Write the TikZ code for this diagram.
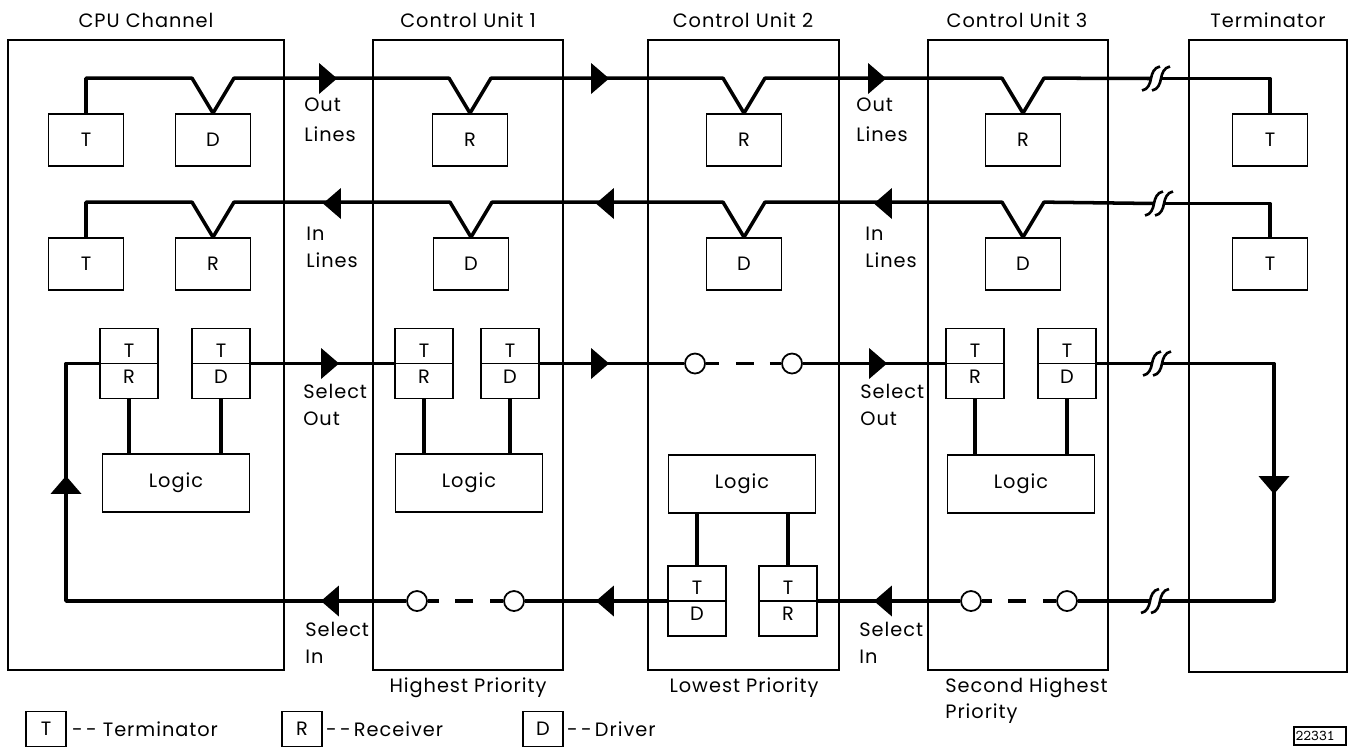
\documentclass[tikz,border=0pt]{standalone}
\usepackage{fontspec}
\setmainfont{Poppins}[LetterSpace=5]
\usepackage{tikz}
\usetikzlibrary{shapes.geometric}
\usetikzlibrary{positioning}
\newcommand\brk[1]{%
  \draw[line width=1.5pt] ([shift={(-14,12)}]#1) to[out=10,in=-100] ([shift={(-5,0)}]#1) to[out=80,in=190] ([shift={(4,-12)}]#1);%
  \draw[line width=1.5pt] ([shift={(-4,12)}]#1) to[out=10,in=-100] ([shift={(5,0)}]#1) to[out=80,in=190] ([shift={(14,-12)}]#1);}

\begin{document}
\begin{tikzpicture}[x=.2mm,y=-.2mm,font=\fontsize{11}{15}\selectfont]%
        \useasboundingbox (0,0) rectangle (1351,751);%%
        \tikzstyle{sig}=[line width=2pt,line join=round]
        \tikzstyle{gapline}=[sig,dash pattern=on 2.6mm off 3.4mm on 3.6mm off 3.2mm on 5mm]
        \tikzstyle{frame}=[line width=.9pt]
        \tikzstyle{arr}=[isosceles triangle,isosceles triangle stretches,fill=black,inner sep=0pt,minimum width=6.2mm,minimum height=3.6mm,anchor=apex]
        \tikzstyle{ring}=[circle,draw,fill=white,line width=1pt,minimum size=4mm,inner sep=0pt]
        %% frames of the units
        \draw[frame] (8,40) rectangle (284,670);%%
        \draw[frame] (373,40) rectangle (563,670);%%
        \draw[frame] (648,40) rectangle (839,670);%%
        \draw[frame] (928,40) rectangle (1108,670);%%
        \draw[frame] (1189,40) rectangle (1347,672);%%
        \node (tcpu) at (146,20) {CPU Channel};%%
        \node (tcu1) at (468,20) {Control Unit 1};%%
        \node (tcu2) at (743,20) {Control Unit 2};%%
        \node (tcu3) at (1017,20) {Control Unit 3};%%
        \node (tterm) at (1268,20) {Terminator};%%
        %% out and in lines
        \begin{scope}
        \tikzstyle{every node}=[draw,line width=1pt,minimum width=15mm,minimum height=10.4mm,inner sep=0pt]%%
        \node (cpuT1) at (86,140) {T};%%
        \node (cpuD) at (213,140) {D};%%
        \node (cpuT2) at (86,264) {T};%%
        \node (cpuR) at (213,264) {R};%%
        \node (cu1R) at (470,140) {R};%%
        \node (cu1D) at (471,264) {D};%%
        \node (cu2R) at (744,140) {R};%%
        \node (cu2D) at (744,264) {D};%%
        \node (cu3R) at (1023,140) {R};%%
        \node (cu3D) at (1023,264) {D};%%
        \node (termT1) at (1270,140) {T};%%
        \node (termT2) at (1270,264) {T};%%
        \end{scope}
        %% select out and select in
        \begin{scope}
        \tikzstyle{every node}=[draw,line width=1pt,minimum width=11.6mm,minimum height=14mm,inner sep=0pt,align=center,
          path picture={\draw[line width=1pt] (path picture bounding box.west) -- (path picture bounding box.east);}]%%
        \node (cpuTR) at (129,363.5) {T\\R};%%
        \node (cpuTD) at (221,363.5) {T\\D};%%
        \node (cu1TR) at (424,363.5) {T\\R};%%
        \node (cu1TD) at (510,363.5) {T\\D};%%
        \node (cu2TD) at (697,601) {T\\D};%%
        \node (cu2TR) at (788,601) {T\\R};%%
        \node (cu3TR) at (975,363.5) {T\\R};%%
        \node (cu3TD) at (1067,363.5) {T\\D};%%
        \end{scope}
        \begin{scope}
        \tikzstyle{every node}=[draw,line width=1pt,minimum width=29.4mm,minimum height=11.6mm,inner sep=0pt]%%
        \node (cpuLogic) at (176,483) {Logic};%%
        \node (cu1Logic) at (469,483) {Logic};%%
        \node (cu2Logic) at (742,484) {Logic};%%
        \node (cu3Logic) at (1021,484) {Logic};%%
        \end{scope}
        \node[ring] (c1a) at (417,601) {};%%
        \node[ring] (c1b) at (514,601) {};%%
        \node[ring] (c2a) at (695,363.5) {};%%
        \node[ring] (c2b) at (792,363.5) {};%%
        \node[ring] (c3a) at (971,601) {};%%
        \node[ring] (c3b) at (1067,601) {};%%
        \coordinate (bkO) at (1156,78.5);%%
        \coordinate (bkI) at (1159,203.5);%%
        \coordinate (bkS) at (1157,363.5);%%
        \coordinate (bkL) at (1155,601);%%
        \coordinate (cpuLoop) at (66,601);%%
        \coordinate (termLoop) at (1274,601);%%
        %% out lines
        \draw[sig] (cpuT1.north) |- ([shift={(-21,-35)}]cpuD.north) -- (cpuD.north) -- ([shift={(21,-35)}]cpuD.north)
          -- ([shift={(-21,-35)}]cu1R.north) -- (cu1R.north) -- ([shift={(21,-35)}]cu1R.north)
          -- ([shift={(-21,-35)}]cu2R.north) -- (cu2R.north) -- ([shift={(21,-35)}]cu2R.north)
          -- ([shift={(-21,-35)}]cu3R.north) -- (cu3R.north) -- ([shift={(21,-35)}]cu3R.north) -- ([xshift=-1mm]bkO);%%
        \draw[sig] ([xshift=1mm]bkO) -| (termT1.north);%%
        %% in lines
        \draw[sig] (cpuT2.north) |- ([shift={(-21,-35)}]cpuR.north) -- (cpuR.north) -- ([shift={(21,-35)}]cpuR.north)
          -- ([shift={(-21,-35)}]cu1D.north) -- (cu1D.north) -- ([shift={(21,-35)}]cu1D.north)
          -- ([shift={(-21,-35)}]cu2D.north) -- (cu2D.north) -- ([shift={(21,-35)}]cu2D.north)
          -- ([shift={(-21,-35)}]cu3D.north) -- (cu3D.north) -- ([shift={(21,-35)}]cu3D.north) -- ([xshift=-1mm]bkI);%%
        \draw[sig] ([xshift=1mm]bkI) -| (termT2.north);%%
        %% select out
        \draw[sig] (cpuTD.east) -- (cu1TR.west);%%
        \draw[sig] (cu1TD.east) -- (c2a);%%
        \draw[gapline] (c2a) -- (c2b);%%
        \draw[sig] (c2b) -- (cu3TR.west);%%
        \draw[sig] (cu3TD.east) -- ([xshift=-1mm]bkS);%%
        \draw[sig] ([xshift=1mm]bkS) -| (termLoop) -- ([xshift=1mm]bkL);%%
        %% select in
        \draw[sig] ([xshift=-1mm]bkL) -- (c3b);%%
        \draw[gapline] (c3b) -- (c3a);%%
        \draw[sig] (c3a) -- (cu2TR.east);%%
        \draw[sig] (cu2TD.west) -- (c1b);%%
        \draw[gapline] (c1b) -- (c1a);%%
        \draw[sig] (c1a) -- (cpuLoop) |- (cpuTR.west);%%
        %% to the logic
        \draw[sig] (cpuTR.south) -- (cpuTR.south |- cpuLogic.north);%%
        \draw[sig] (cpuTD.south) -- (cpuTD.south |- cpuLogic.north);%%
        \draw[sig] (cu1TR.south) -- (cu1TR.south |- cu1Logic.north);%%
        \draw[sig] (cu1TD.south) -- (cu1TD.south |- cu1Logic.north);%%
        \draw[sig] (cu2TD.north) -- (cu2TD.north |- cu2Logic.south);%%
        \draw[sig] (cu2TR.north) -- (cu2TR.north |- cu2Logic.south);%%
        \draw[sig] (cu3TR.south) -- (cu3TR.south |- cu3Logic.north);%%
        \draw[sig] (cu3TD.south) -- (cu3TD.south |- cu3Logic.north);%%
        \brk{bkO} \brk{bkI} \brk{bkS} \brk{bkL}
        %% arrow heads
        \node[arr] (ao1) at (338,78.5) {};%%
        \node[arr] (ao2) at (610,78.5) {};%%
        \node[arr] (ao3) at (887,78.5) {};%%
        \node[arr,rotate=180] (ai1) at (322,203.5) {};%%
        \node[arr,rotate=180] (ai2) at (595,203.5) {};%%
        \node[arr,rotate=180] (ai3) at (873,203.5) {};%%
        \node[arr] (as1) at (340,363.5) {};%%
        \node[arr] (as2) at (610,363.5) {};%%
        \node[arr] (as3) at (888,363.5) {};%%
        \node[arr,rotate=180] (al1) at (320,601) {};%%
        \node[arr,rotate=180] (al2) at (595,601) {};%%
        \node[arr,rotate=180] (al3) at (873,601) {};%%
        \node[arr,rotate=90] (aup) at (66,475) {};%%
        \node[arr,rotate=-90] (adn) at (1274,495) {};%%
        %% labels
        \begin{scope}
        \tikzstyle{every node}=[align=left,anchor=north west,inner sep=0pt]%%
        \node (lo1) at (304,98) {Out\\[2pt]Lines};%%
        \node (li1) at (306,227) {In\\Lines};%%
        \node (lso1) at (303,384) {Select\\Out};%%
        \node (lsi1) at (305,622) {Select\\In};%%
        \node (lo3) at (856,98) {Out\\[2pt]Lines};%%
        \node (li3) at (865,227) {In\\Lines};%%
        \node (lso3) at (860,384) {Select\\Out};%%
        \node (lsi3) at (859,622) {Select\\In};%%
        \node (lp3) at (945,677) {Second Highest\\Priority};%%
        \end{scope}
        \node (lp1) at (468,688) {Highest Priority};%%
        \node (lp2) at (744,688) {Lowest Priority};%%
        %% key
        \begin{scope}
        \tikzstyle{every node}=[draw,line width=1pt,minimum width=8mm,minimum height=7mm,inner sep=0pt]%%
        \node (kT) at (46,729) {T};%%
        \node (kR) at (302,729) {R};%%
        \node (kD) at (543,729) {D};%%
        \end{scope}
        \node[right=1mm of kT,inner sep=0pt] (kTt) {-\,-\ Terminator};%%
        \node[right=.6mm of kR,inner sep=0pt] (kRt) {-\,-\,Receiver};%%
        \node[right=.6mm of kD,inner sep=0pt] (kDt) {-\,-\,Driver};%%
        \node[draw,line width=.6pt,font=\ttfamily\fontsize{8.5}{9}\selectfont,minimum width=10.4mm,minimum height=3.6mm,inner sep=.8pt,text width=9.8mm] (fig) at (1320,736) {22331};%%
\end{tikzpicture}
\end{document}
